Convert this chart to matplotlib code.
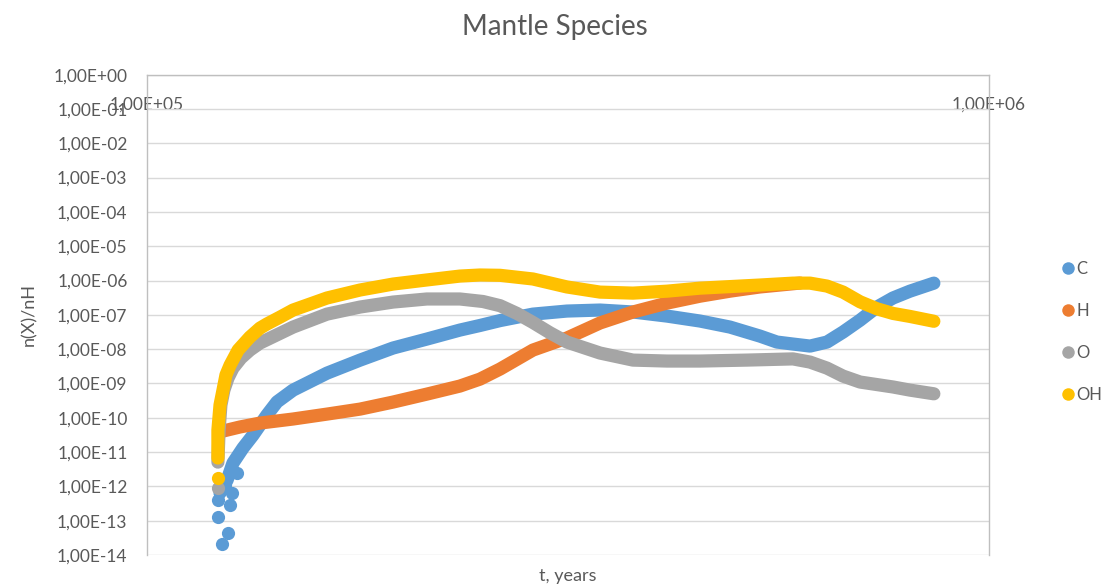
import matplotlib
matplotlib.use("Agg")
import matplotlib.pyplot as plt
from matplotlib.lines import Line2D
from matplotlib.ticker import FixedLocator, FuncFormatter

plt.rcParams['font.family'] = ['Lato', 'DejaVu Sans']

# ---- data ----
c_t = [1.221e5, 1.245e5, 1.265e5, 1.300e5, 1.336e5, 1.388e5, 1.427e5, 1.491e5, 1.636e5,
       1.791e5, 1.960e5, 2.150e5, 2.353e5, 2.486e5, 2.626e5, 2.873e5, 3.153e5, 3.452e5,
       3.777e5, 4.146e5, 4.537e5, 4.925e5, 5.346e5, 5.600e5, 5.850e5, 6.130e5, 6.421e5,
       6.709e5, 7.029e5, 7.362e5, 7.691e5, 8.055e5, 8.600e5]
c_y = [6.4e-13, 1.53e-12, 4.8e-12, 1.31e-11, 3.1e-11, 1.2e-10, 2.9e-10, 6.4e-10, 2.0e-9,
       4.8e-9, 1.08e-8, 1.97e-8, 3.6e-8, 4.9e-8, 6.8e-8, 1.05e-7, 1.29e-7, 1.38e-7,
       1.21e-7, 9.2e-8, 6.6e-8, 4.4e-8, 2.4e-8, 1.61e-8, 1.41e-8, 1.23e-8, 1.61e-8,
       3.15e-8, 7.0e-8, 1.69e-7, 3.1e-7, 4.9e-7, 8.4e-7]
c_t_scatter = [1.214e5, 1.255e5, 1.214e5, 1.248e5, 1.228e5, 1.262e5, 1.279e5, 1.238e5]
c_y_scatter = [4.0e-13, 2.85e-13, 1.27e-13, 4.35e-14, 2.1e-14, 6.5e-13, 2.5e-12, 1.1e-12]

h_t = [1.231e5, 1.290e5, 1.362e5, 1.491e5, 1.636e5, 1.791e5, 1.960e5, 2.150e5, 2.353e5,
       2.486e5, 2.626e5, 2.873e5, 3.153e5, 3.452e5, 3.777e5, 4.146e5, 4.537e5, 4.925e5,
       5.346e5, 5.803e5, 5.964e5]
h_y = [4.1e-11, 5.4e-11, 7.0e-11, 9.2e-11, 1.28e-10, 1.79e-10, 2.87e-10, 4.9e-10, 8.4e-10,
       1.34e-9, 2.63e-9, 9.4e-9, 2.11e-8, 5.8e-8, 1.21e-7, 2.2e-7, 3.5e-7, 4.9e-7,
       6.5e-7, 7.9e-7, 8.45e-7]

o_t = [1.214e5, 1.218e5, 1.224e5, 1.234e5, 1.248e5, 1.265e5, 1.293e5, 1.325e5, 1.362e5,
       1.491e5, 1.636e5, 1.791e5, 1.960e5, 2.150e5, 2.353e5, 2.506e5, 2.626e5, 2.750e5,
       2.873e5, 3.010e5, 3.153e5, 3.452e5, 3.777e5, 4.146e5, 4.537e5, 5.159e5, 5.850e5,
       6.130e5, 6.421e5, 6.709e5, 7.029e5, 7.691e5, 8.055e5, 8.600e5]
o_y = [5.1e-12, 4.4e-11, 2.35e-10, 6.4e-10, 1.44e-9, 2.8e-9, 5.5e-9, 9.4e-9, 1.51e-8,
       4.4e-8, 1.05e-7, 1.69e-7, 2.36e-7, 2.9e-7, 2.9e-7, 2.45e-7, 1.85e-7, 1.1e-7,
       6.0e-8, 3.0e-8, 1.61e-8, 7.7e-9, 4.8e-9, 4.5e-9, 4.5e-9, 4.8e-9, 5.2e-9,
       4.2e-9, 2.8e-9, 1.64e-9, 1.1e-9, 7.9e-10, 6.4e-10, 5.0e-10]
o_t_scatter = [1.214e5]
o_y_scatter = [8.9e-13]

oh_t = [1.214e5, 1.214e5, 1.221e5, 1.231e5, 1.241e5, 1.255e5, 1.283e5, 1.325e5, 1.362e5,
        1.388e5, 1.439e5, 1.491e5, 1.636e5, 1.791e5, 1.960e5, 2.150e5, 2.353e5, 2.486e5,
        2.626e5, 2.873e5, 3.153e5, 3.452e5, 3.777e5, 4.146e5, 4.537e5, 5.346e5, 5.850e5,
        6.130e5, 6.421e5, 6.709e5, 7.029e5, 7.362e5, 7.691e5, 8.055e5, 8.600e5]
oh_y = [6.7e-12, 4.4e-11, 2.35e-10, 6.4e-10, 1.76e-9, 3.4e-9, 9.4e-9, 2.25e-8, 4.1e-8,
        5.4e-8, 8.6e-8, 1.38e-7, 3.1e-7, 5.3e-7, 7.9e-7, 1.04e-6, 1.35e-6, 1.45e-6,
        1.42e-6, 1.11e-6, 6.5e-7, 4.6e-7, 4.3e-7, 4.9e-7, 6.0e-7, 7.4e-7, 8.4e-7,
        8.4e-7, 6.9e-7, 4.6e-7, 2.4e-7, 1.5e-7, 1.1e-7, 9.0e-8, 6.5e-8]
oh_t_scatter = [1.214e5]
oh_y_scatter = [1.75e-12]

series_names = ['C', 'H', 'O', 'OH']
series_colors = ['#5B9BD5', '#ED7D31', '#A5A5A5', '#FFC000']
y_ticks = [10.0 ** e for e in range(0, -15, -1)]
x_ticks = [1e5, 1e6]

def sci(v, pos=None):
    s = "%.2E" % v
    return s.replace('.', ',')

# ---- figure ----
fig = plt.figure(figsize=(11.10, 5.84), dpi=100)
ax = fig.add_axes([147 / 1110, 1 - 555 / 584, (989 - 147) / 1110, (555 - 74.7) / 584])
ax.set_xscale('log')
ax.set_yscale('log')
ax.set_xlim(1e5, 1e6)
ax.set_ylim(1e-14, 1e0)

lw = 9.5
data = [(c_t, c_y, c_t_scatter, c_y_scatter),
        (h_t, h_y, [], []),
        (o_t, o_y, o_t_scatter, o_y_scatter),
        (oh_t, oh_y, oh_t_scatter, oh_y_scatter)]
for i, ((t, y, ts, ys), col) in enumerate(zip(data, series_colors)):
    z = 3 + i
    ax.plot(t, y, '-', color=col, lw=lw, solid_capstyle='round', solid_joinstyle='round', zorder=z)
    if ts:
        ax.plot(ts, ys, 'o', color=col, ms=lw, mec='none', zorder=z)

ax.yaxis.set_major_locator(FixedLocator(y_ticks))
ax.yaxis.set_minor_locator(FixedLocator([]))
ax.yaxis.set_major_formatter(FuncFormatter(sci))
ax.xaxis.set_major_locator(FixedLocator(x_ticks))
ax.xaxis.set_minor_locator(FixedLocator([]))
ax.xaxis.set_major_formatter(FuncFormatter(sci))

ax.grid(axis='y', color='#D9D9D9', lw=1.0, zorder=0)
ax.set_axisbelow(True)
for side in ['left', 'top', 'right']:
    ax.spines[side].set_color('#BFBFBF')
    ax.spines[side].set_linewidth(1.0)
ax.spines['bottom'].set_visible(False)

ax.tick_params(axis='y', length=0, pad=14, labelsize=12.5, labelcolor='#595959')
ax.tick_params(axis='x', length=0, top=True, labeltop=True, bottom=False, labelbottom=False,
               pad=-27, labelsize=12.5, labelcolor='#595959')

ax.set_xlabel('t, years', fontsize=13, color='#595959', labelpad=0)
ax.xaxis.set_label_position('bottom')
ax.xaxis.set_label_coords(0.5, -0.027)
ax.set_ylabel('n(X)/nH', fontsize=13, color='#595959')
ax.yaxis.set_label_coords(-0.131, 0.5)

fig.text(555 / 1110, 1 - 27 / 584, 'Mantle Species', ha='center', va='center',
         fontsize=20, color='#595959')

handles = [Line2D([], [], ls='none', marker='o', ms=9, mec='none', color=c) for c in series_colors]
leg = fig.legend(handles, series_names, loc='center left', bbox_to_anchor=(1058 / 1110, 1 - 332 / 584),
                 frameon=False, fontsize=12, labelcolor='#595959', handletextpad=-0.1,
                 labelspacing=1.55, handlelength=1.2, borderaxespad=0, borderpad=0)

fig.savefig('out.png', dpi=100)
